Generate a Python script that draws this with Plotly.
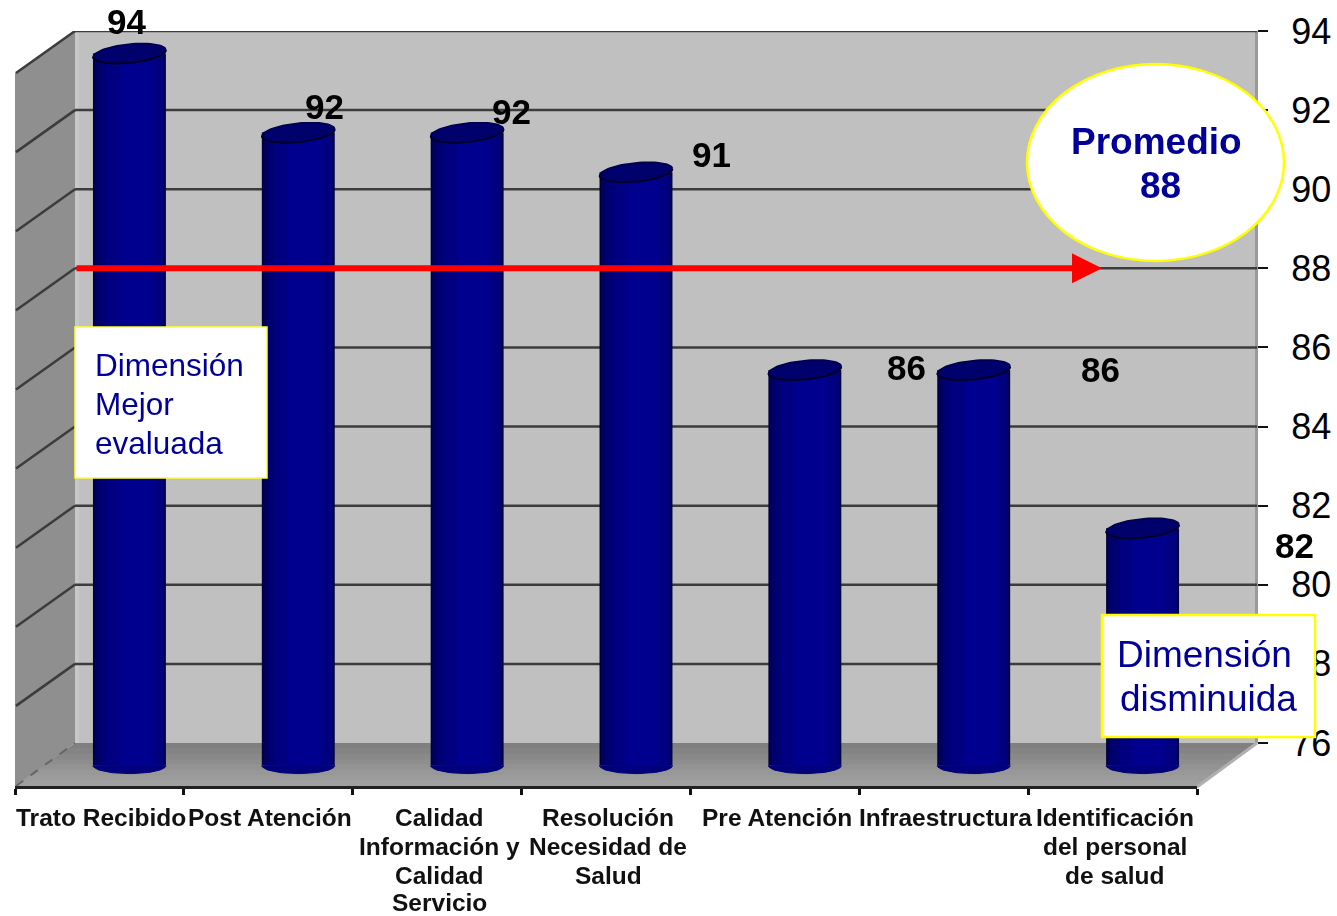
import math
import plotly.graph_objects as go

# Chart data
CATEGORIES = ["Trato Recibido", "Post Atención", "Calidad Información y Calidad Servicio",
              "Resolución Necesidad de Salud", "Pre Atención", "Infraestructura",
              "Identificación del personal de salud"]
CATEGORY_LINES = [["Trato Recibido"], ["Post Atención"],
                  ["Calidad", "Información y", "Calidad", "Servicio"],
                  ["Resolución", "Necesidad de", "Salud"], ["Pre Atención"],
                  ["Infraestructura"], ["Identificación", "del personal", "de salud"]]
VALUES = [94, 92, 92, 91, 86, 86, 82]
AVERAGE = 88
Y_TICKS = [76, 78, 80, 82, 84, 86, 88, 90, 92, 94]

W, H = 1337, 916
BLUE = "#000099"
FONT = "Liberation Sans"


def px(x):
    return x / W


def py(y):
    return 1 - y / H


def poly(points, fill, line="rgba(0,0,0,0)", lw=0):
    d = "M " + " L ".join(f"{px(x):.5f} {py(y):.5f}" for x, y in points) + " Z"
    return dict(type="path", xref="paper", yref="paper", path=d, fillcolor=fill,
                line=dict(color=line, width=lw), layer="below")


def text(x, y, s, size, color="black", bold=False):
    return dict(xref="paper", yref="paper", x=px(x), y=py(y), text=f"<b>{s}</b>" if bold else s,
                showarrow=False, xanchor="center", yanchor="middle",
                font=dict(family=FONT, size=size, color=color))


# Scale of the back wall and of the plane that holds the cylinders
UNIT = 39.56
WALL_TOP, WALL_BOTTOM = 31, 743
FRONT_Y = 786
BAR_TOP = 53.5
bar_y = lambda v: BAR_TOP + (94 - v) * UNIT
DEPTH = 42 / UNIT

shapes = [
    poly([(75, WALL_TOP), (1257, WALL_TOP), (1257, WALL_BOTTOM), (75, WALL_BOTTOM)], "#c0c0c0"),
    poly([(75, WALL_TOP), (79, WALL_TOP), (79, WALL_BOTTOM), (75, WALL_BOTTOM)], "#c8c8c8"),
    poly([(1255, WALL_TOP), (1258, WALL_TOP), (1258, WALL_BOTTOM), (1255, WALL_BOTTOM)], "#9a9a9a"),
    poly([(15, 73), (75, WALL_TOP), (75, WALL_BOTTOM), (15, FRONT_Y)], "#8f8f8f"),
]

# Floor: each band reaches the front edge and is overpainted by the next, brighter one
FLOOR_GRAYS = ["#808080", "#848484", "#898989", "#8e8e8e", "#939393", "#989898", "#9c9c9c", "#a0a0a0"]
n = len(FLOOR_GRAYS)
for k, gray in enumerate(FLOOR_GRAYS):
    f0 = k / n
    ya = WALL_BOTTOM + f0 * (FRONT_Y - WALL_BOTTOM)
    shapes.append(poly([(75 - 60 * f0, ya), (1257 - 60 * f0, ya), (1197, FRONT_Y), (15, FRONT_Y)], gray))

for t in Y_TICKS[1:]:
    shapes.append(dict(type="line", xref="paper", yref="y", x0=px(75), x1=px(1257), y0=t, y1=t,
                       line=dict(color="#3c3c3c", width=2.5), layer="below"))
    shapes.append(dict(type="line", xref="paper", yref="y", x0=px(16), x1=px(75), y0=t - DEPTH, y1=t,
                       line=dict(color="#3c3c3c", width=2.5), layer="below"))
shapes.append(dict(type="line", xref="paper", yref="paper", x0=px(16), x1=px(75), y0=py(FRONT_Y), y1=py(WALL_BOTTOM),
                   line=dict(color="#666666", width=2, dash="dash"), layer="below"))
shapes.append(dict(type="line", xref="paper", yref="paper", x0=px(1197), x1=px(1257), y0=py(787), y1=py(WALL_BOTTOM),
                   line=dict(color="#b0b0b0", width=3), layer="below"))

# Cylinder body: nested bars, darkest at the rim and brightest right of centre
BAR_WIDTH = 73 / 169
BAR_BASE = 76
STRIPS = [(0.00, 1.00, "#00003a"), (0.02, 0.98, "#00005e"), (0.08, 0.97, "#000072"),
          (0.18, 0.95, "#000080"), (0.36, 0.82, "#00008e")]
CAP_H = 9.5 / UNIT
CAP_TILT = 3.5 / UNIT
BASE_H = 8 / UNIT
POSITIONS = list(range(len(CATEGORIES)))

traces = [go.Scatter(x=[0.5] * len(Y_TICKS), y=Y_TICKS, mode="markers", opacity=0, xaxis="x", yaxis="y",
                     hoverinfo="skip", showlegend=False),
          go.Scatter(x=CATEGORIES, y=VALUES, mode="markers", opacity=0, xaxis="x3", yaxis="y3",
                     hoverinfo="skip", showlegend=False)]
for left, right, col in STRIPS:
    traces.append(go.Bar(x=POSITIONS, y=[v - BAR_BASE for v in VALUES], base=BAR_BASE,
                         width=BAR_WIDTH * (right - left), offset=BAR_WIDTH * (left - 0.5),
                         marker=dict(color=col, line=dict(width=0)),
                         xaxis="x2", yaxis="y2", showlegend=False))

ANGLES = [2 * math.pi * k / 72 for k in range(73)]
LOWER = [math.pi * k / 36 for k in range(37)]
for i, v in enumerate(VALUES):
    a = BAR_WIDTH / 2
    # Rounded foot of the cylinder, only the part below its chord
    traces.append(go.Scatter(x=[i + a * math.cos(t) for t in LOWER],
                             y=[BAR_BASE - BASE_H * math.sin(t) for t in LOWER],
                             mode="lines", fill="toself", fillcolor="#00007e",
                             line=dict(color="#00006a", width=1), xaxis="x2", yaxis="y2",
                             hoverinfo="skip", showlegend=False))
    # Slightly tilted top cap
    traces.append(go.Scatter(x=[i + a * math.cos(t) for t in ANGLES],
                             y=[v + CAP_H * math.sin(t) + CAP_TILT * math.cos(t) for t in ANGLES],
                             mode="lines", fill="toself", fillcolor="#00006c",
                             line=dict(color="#00004a", width=1.5), xaxis="x2", yaxis="y2",
                             hoverinfo="skip", showlegend=False))
    traces.append(go.Scatter(x=[i + a * math.cos(t) for t in LOWER],
                             y=[v - CAP_H * math.sin(t) + CAP_TILT * math.cos(t) for t in LOWER],
                             mode="lines", line=dict(color="#00002a", width=2), xaxis="x2", yaxis="y2",
                             hoverinfo="skip", showlegend=False))

# Callouts
shapes += [
    dict(type="rect", xref="paper", yref="paper", x0=px(75), x1=px(267), y0=py(478), y1=py(327),
         fillcolor="white", line=dict(color="#ffff33", width=1.5)),
    dict(type="rect", xref="paper", yref="paper", x0=px(1102), x1=px(1315), y0=py(737), y1=py(615),
         fillcolor="white", line=dict(color="#ffff00", width=2.5)),
    dict(type="circle", xref="paper", yref="paper", x0=px(1027), x1=px(1284), y0=py(261), y1=py(64),
         fillcolor="white", line=dict(color="#ffff00", width=2.5)),
]

annotations = []
label_pos = [(127, 21), (324, 107), (511, 112), (711, 155), (906, 367), (1100, 369), (1294, 545)]
for (x, y), v in zip(label_pos, VALUES):
    annotations.append(text(x, y, str(v), 35, bold=True))

line_y = [817, 846, 875, 902]
for i, lines in enumerate(CATEGORY_LINES):
    cx = 15 + (i + 0.5) * 1182 / 7 + 2
    for y, s in zip(line_y, lines):
        annotations.append(text(cx, y, s, 24.5, color="#111111", bold=True))

annotations += [
    text(1156, 142, "Promedio", 37, BLUE, True),
    text(1160, 186, str(AVERAGE), 37, BLUE, True),
    text(1204, 654, "Dimensión", 37, BLUE),
    text(1208, 698, "disminuida", 37, BLUE),
]
for y, s in zip([365, 404, 443], ["Dimensión", "Mejor", "evaluada"]):
    a = text(93, y, s, 31.5, BLUE)
    a["xanchor"] = "left"
    annotations.append(a)

annotations.append(dict(xref="paper", yref="y", x=px(1102), y=AVERAGE, ax=-1027, ay=0, text="",
                        showarrow=True, arrowhead=2, arrowwidth=6, arrowsize=1, arrowcolor="#ff0000"))

fig = go.Figure(traces)
fig.update_layout(
    width=W, height=H, margin=dict(l=0, r=0, t=0, b=0, autoexpand=False), autosize=False,
    paper_bgcolor="white", plot_bgcolor="rgba(0,0,0,0)", barmode="overlay",
    font=dict(family=FONT), shapes=shapes, annotations=annotations, showlegend=False,
    xaxis=dict(domain=[px(75), px(1257)], range=[0, 1], visible=False, anchor="y"),
    yaxis=dict(domain=[py(WALL_BOTTOM), py(WALL_TOP)], range=[76, 94], side="right", anchor="x",
               tickmode="array", tickvals=Y_TICKS, showgrid=False, zeroline=False, showline=False,
               ticks="outside", ticklen=10, tickwidth=2, tickcolor="#111111", ticklabelstandoff=16,
               tickfont=dict(family=FONT, size=36, color="black")),
    xaxis2=dict(domain=[px(45), px(1227)], range=[-0.5, 6.5], visible=False, anchor="y2"),
    yaxis2=dict(domain=[py(bar_y(75)), py(bar_y(95))], range=[75, 95], visible=False, anchor="x2"),
    xaxis3=dict(domain=[px(15), px(1197)], range=[-0.5, 6.5], type="category", categoryorder="array",
                categoryarray=CATEGORIES, anchor="free", position=py(787), tickson="boundaries",
                ticks="outside", ticklen=6, tickwidth=3, tickcolor="#111111", showticklabels=False,
                showline=True, linecolor="#222222", linewidth=2.5, showgrid=False),
    yaxis3=dict(domain=[py(WALL_BOTTOM), py(WALL_TOP)], range=[76, 94], visible=False, anchor="x3"),
)
fig.write_html("out.html")
